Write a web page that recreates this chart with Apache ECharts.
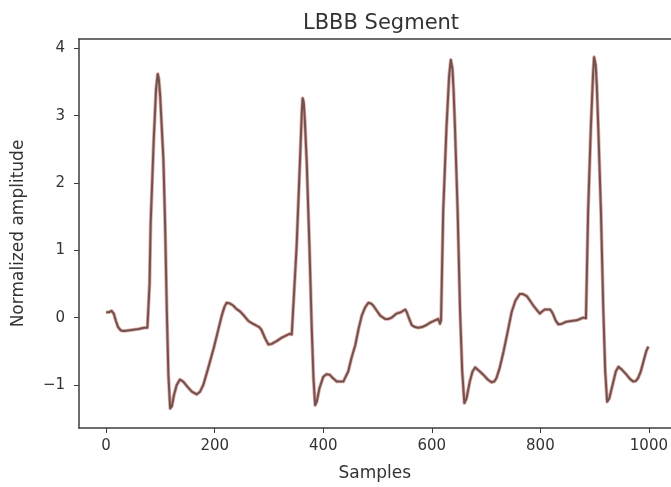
<!DOCTYPE html>
<html>
<head>
<meta charset="utf-8">
<title>LBBB Segment</title>
<script src="https://cdn.jsdelivr.net/npm/echarts@6/dist/echarts.min.js"></script>
<style>
  html, body { margin: 0; padding: 0; background: #fff; }
  #lineChart { width: 671px; height: 487px; }
</style>
</head>
<body>
<div id="lineChart"></div>
<script>
// sample index / normalized amplitude
var sampleIdx = [
  0, 5, 10, 14, 18, 22, 27, 33, 40, 50, 60, 70, 76, 78,
  80, 82, 87.5, 92, 95, 97, 99.5, 105.5, 108.7, 111.7, 114.7, 118, 121, 125, 130, 136,
  142, 150, 158, 167, 173, 179, 188, 198, 206, 213, 218, 222, 228, 234, 240, 247, 255,
  262, 270, 277, 282, 286, 293, 299, 305, 314, 323, 333, 338, 342, 345,
  351, 357, 360.5, 362, 364, 366, 369.6, 374.5, 378.8, 382, 385, 388, 393, 400, 406,
  412, 418, 425, 437, 446, 452, 459, 465, 471, 477, 483, 488, 492, 498, 505, 514, 520,
  526, 535, 543, 551, 554, 557, 563, 569, 575, 582, 590, 598, 606, 612, 615, 617,
  621, 627, 632, 635, 638, 640, 642.7, 647.6, 652, 656, 660, 664, 670, 675, 680,
  687, 695, 703, 710, 715, 719, 725, 732, 740, 747, 754, 762, 768, 775, 781, 787,
  793, 799, 803, 808, 813, 818, 821, 824, 828, 833, 840, 848, 857, 867, 873, 879, 882, 884,
  888, 893, 897, 899, 902, 904, 906.7, 911.6, 916, 919.5, 923, 927, 933, 939, 944,
  951, 959, 965, 971, 976, 980, 985, 990, 995, 999
];
var amplitude = [
  0.08, 0.08, 0.10, 0.06, -0.05, -0.14, -0.19, -0.20, -0.19, -0.18, -0.17, -0.15, -0.15, -0.16,
  0.5, 1.4, 2.6, 3.4, 3.62, 3.55, 3.3, 2.35, 1.36, 0.13, -0.85, -1.35, -1.32, -1.15, -1.0, -0.92,
  -0.95, -1.03, -1.1, -1.14, -1.1, -1.0, -0.75, -0.46, -0.2, 0.03, 0.16, 0.22, 0.21, 0.18, 0.13, 0.09, 0.02,
  -0.05, -0.09, -0.12, -0.14, -0.18, -0.31, -0.4, -0.39, -0.35, -0.3, -0.26, -0.24, -0.25, -0.26,
  1.07, 2.3, 3.05, 3.26, 3.2, 2.95, 2.3, 1.07, -0.16, -0.9, -1.3, -1.25, -1.05, -0.88, -0.84,
  -0.85, -0.9, -0.95, -0.95, -0.8, -0.6, -0.41, -0.17, 0.03, 0.15, 0.22, 0.21, 0.18, 0.11, 0.03, -0.02, -0.02,
  0.0, 0.06, 0.08, 0.12, 0.08, 0.01, -0.11, -0.14, -0.15, -0.14, -0.11, -0.07, -0.04, -0.02, -0.09, -0.04,
  1.58, 2.82, 3.6, 3.83, 3.7, 3.4, 2.82, 1.58, 0.11, -0.8, -1.27, -1.2, -0.95, -0.8, -0.74,
  -0.79, -0.85, -0.92, -0.96, -0.95, -0.9, -0.75, -0.51, -0.2, 0.08, 0.25, 0.35, 0.35, 0.32, 0.25, 0.18,
  0.12, 0.06, 0.09, 0.12, 0.12, 0.12, 0.09, 0.04, -0.04, -0.10, -0.09, -0.06, -0.05, -0.04, -0.02, 0.0, 0.01, -0.01,
  1.58, 2.82, 3.6, 3.87, 3.75, 3.45, 2.82, 1.58, 0.11, -0.8, -1.25, -1.2, -1.0, -0.8, -0.73,
  -0.78, -0.85, -0.91, -0.95, -0.94, -0.9, -0.8, -0.65, -0.5, -0.43
];
var xTicks = [0, 200, 400, 600, 800, 1000];
var yTicks = [-1, 0, 1, 2, 3, 4];

var points = sampleIdx.map(function (x, i) { return [x, amplitude[i]]; });

var axisColor = '#3c3c3c';
var textFont = 'DejaVu Sans';

var lineChart = echarts.init(document.getElementById('lineChart'));
lineChart.setOption({
  backgroundColor: '#fff',
  animation: false,
  title: {
    text: 'LBBB Segment',
    left: 298,
    top: 8,
    textStyle: { color: '#333', fontFamily: textFont, fontSize: 21, fontWeight: 'normal' }
  },
  grid: { left: 79, top: 39, right: 0, bottom: 57 },
  xAxis: [
    {
      type: 'value',
      min: -50,
      max: 1040,
      name: 'Samples',
      nameLocation: 'middle',
      nameGap: 37,
      nameTextStyle: { color: '#333', fontFamily: textFont, fontSize: 17 },
      axisLine: { show: true, onZero: false, lineStyle: { color: axisColor, width: 1.5 } },
      axisTick: { show: true, length: 5, customValues: xTicks, lineStyle: { color: axisColor } },
      axisLabel: {
        customValues: xTicks,
        margin: 11,
        color: '#333',
        fontFamily: textFont,
        fontSize: 15,
        formatter: function (value) { return String(value); }
      },
      splitLine: { show: false }
    },
    {
      type: 'value',
      position: 'top',
      min: -50,
      max: 1040,
      axisLine: { show: true, onZero: false, lineStyle: { color: axisColor, width: 1.5 } },
      axisTick: { show: false },
      axisLabel: { show: false },
      splitLine: { show: false }
    }
  ],
  yAxis: {
    type: 'value',
    min: -1.64,
    max: 4.14,
    name: 'Normalized amplitude',
    nameLocation: 'middle',
    nameGap: 52,
    nameTextStyle: { color: '#333', fontFamily: textFont, fontSize: 17 },
    axisLine: { show: true, onZero: false, lineStyle: { color: axisColor, width: 1.5 } },
    axisTick: { show: true, length: 5, customValues: yTicks, lineStyle: { color: axisColor } },
    axisLabel: {
      customValues: yTicks,
      margin: 14,
      color: '#333',
      fontFamily: textFont,
      fontSize: 15,
      formatter: function (value) {
        return String(value).replace('-', '\u2212');
      }
    },
    splitLine: { show: false }
  },
  series: [
    {
      name: 'halo',
      type: 'line',
      data: points,
      showSymbol: false,
      smooth: false,
      lineStyle: { color: '#e3aaa2', width: 3.6, join: 'round' },
      silent: true
    },
    {
      name: 'LBBB',
      type: 'line',
      data: points,
      showSymbol: false,
      smooth: false,
      lineStyle: { color: '#6e5350', width: 2, join: 'round' }
    }
  ]
});
</script>
</body>
</html>
